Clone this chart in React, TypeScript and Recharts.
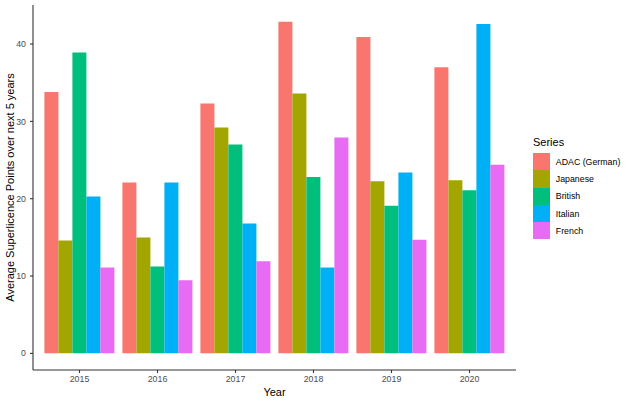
import { Bar, BarChart, Label, Legend, XAxis, YAxis } from 'recharts';

// Average superlicence points per year, by series
const years = ['2015', '2016', '2017', '2018', '2019', '2020'];
const adac = [33.8, 22.1, 32.3, 42.9, 40.9, 37.0];
const japanese = [14.6, 15.0, 29.2, 33.6, 22.25, 22.4];
const british = [38.9, 11.25, 27.0, 22.8, 19.1, 21.1];
const italian = [20.3, 22.1, 16.8, 11.1, 23.4, 42.6];
const french = [11.1, 9.45, 11.9, 27.9, 14.7, 24.4];
const yTicks = [0, 10, 20, 30, 40];

const series = [
  { key: 'adac', name: 'ADAC (German)', color: '#F8766D', values: adac },
  { key: 'japanese', name: 'Japanese', color: '#A3A500', values: japanese },
  { key: 'british', name: 'British', color: '#00BF7D', values: british },
  { key: 'italian', name: 'Italian', color: '#00B0F6', values: italian },
  { key: 'french', name: 'French', color: '#E76BF3', values: french },
];

const data = years.map((year, i) => {
  const row: Record<string, string | number> = { year };
  series.forEach((s) => {
    row[s.key] = s.values[i];
  });
  return row;
});

const FONT = '"Liberation Sans", Arial, sans-serif';
const tickStyle = { fontSize: 8.8, fill: '#4d4d4d', fontFamily: FONT };
const axisLine = { stroke: '#333', strokeWidth: 1.1 };

function YTitle({ viewBox }: any) {
  const cy = viewBox.y + viewBox.height / 2;
  return (
    <text
      x={10}
      y={cy}
      transform={`rotate(-90, 10, ${cy})`}
      textAnchor="middle"
      dominantBaseline="central"
      style={{ fontSize: 11, fontFamily: FONT, fill: '#000' }}
    >
      Average Superlicence Points over next 5 years
    </text>
  );
}

// keep the legend in series order (recharts sorts the payload by name)
function SeriesLegend() {
  return (
    <div style={{ fontFamily: FONT }}>
      <div style={{ fontSize: 11, color: '#000', marginBottom: 5, lineHeight: '12px' }}>Series</div>
      {series.map((s) => (
        <div key={s.key} style={{ display: 'flex', alignItems: 'center', height: 17.3 }}>
          <div style={{ width: 17.3, height: 17.3, background: s.color }} />
          <span style={{ fontSize: 8.8, color: '#000', marginLeft: 5.5 }}>{s.name}</span>
        </div>
      ))}
    </div>
  );
}

export default function App() {
  return (
    <div style={{ position: 'absolute', left: 0, top: 0, width: 632, height: 402, background: '#fff' }}>
      <BarChart
        width={632}
        height={402}
        data={data}
        margin={{ top: 5, right: 116, left: 0, bottom: 0 }}
        barGap={0}
        barCategoryGap="5%"
      >
        <XAxis
          dataKey="year"
          height={32}
          padding={{ left: 7.5, right: 7.5 }}
          tick={tickStyle}
          tickSize={3}
          tickMargin={3}
          axisLine={axisLine}
          tickLine={axisLine}
        >
          <Label
            value="Year"
            position="insideBottom"
            offset={6}
            style={{ fontSize: 11, fontFamily: FONT, fill: '#000' }}
          />
        </XAxis>
        <YAxis
          width={33}
          type="number"
          domain={[-2.15, 45.05]}
          ticks={yTicks}
          allowDataOverflow
          tick={tickStyle}
          tickSize={3}
          tickMargin={4}
          axisLine={axisLine}
          tickLine={axisLine}
        >
          <Label content={<YTitle />} />
        </YAxis>
        <Legend
          layout="vertical"
          align="center"
          verticalAlign="middle"
          content={<SeriesLegend />}
          wrapperStyle={{ left: 533, top: 136, width: 100 }}
        />
        {series.map((s) => (
          <Bar key={s.key} dataKey={s.key} name={s.name} fill={s.color} isAnimationActive={false} />
        ))}
      </BarChart>
    </div>
  );
}
